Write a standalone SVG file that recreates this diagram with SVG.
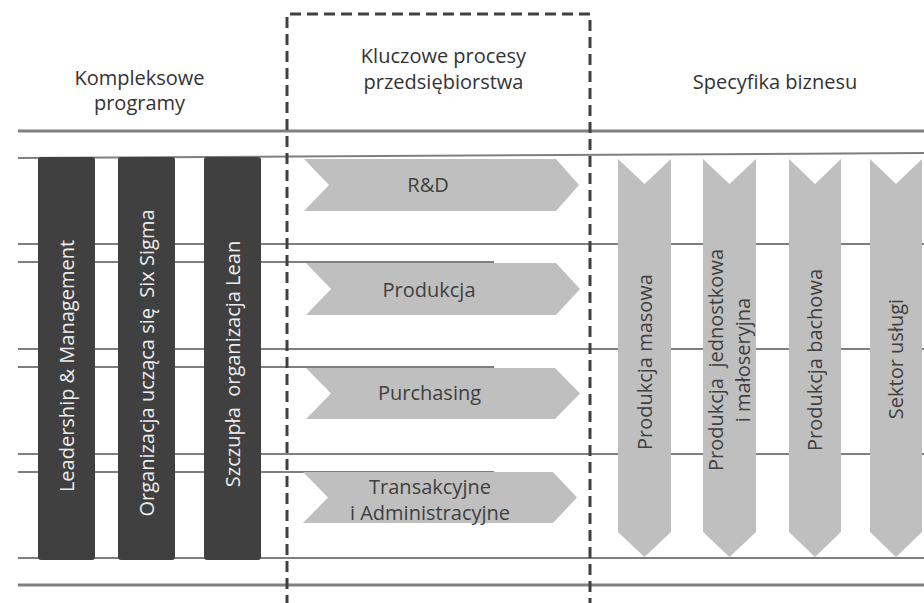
<svg xmlns="http://www.w3.org/2000/svg" width="924" height="603" viewBox="0 0 924 603">
<defs>
<style>
.hdr{font-family:"Open Sans","Noto Sans",sans-serif;font-size:20px;fill:#333333;text-anchor:middle}
.lbl{font-family:"Open Sans","Noto Sans",sans-serif;font-size:20px;fill:#404040;text-anchor:middle}
.wlbl{font-family:"Open Sans","Noto Sans",sans-serif;font-size:20px;fill:#ececec;text-anchor:middle}
.thin{stroke:#7f7f7f;stroke-width:2;fill:none}
.thick{stroke:#808080;stroke-width:3;fill:none}
.dark{fill:#404040}
.chev{fill:#bfbfbf}
.frame{fill:none;stroke:#404040;stroke-width:3;stroke-dasharray:11 6}
</style>
</defs>
<rect width="924" height="603" fill="#ffffff"/>

<g id="connectors">
<line class="thick" x1="18" y1="131" x2="924" y2="131"/>
<line class="thin" x1="18" y1="158" x2="924" y2="153"/>
<line class="thin" x1="18" y1="244" x2="924" y2="244"/>
<line class="thin" x1="18" y1="262" x2="494" y2="262"/>
<line class="thin" x1="18" y1="349" x2="924" y2="349"/>
<line class="thin" x1="18" y1="367" x2="494" y2="367"/>
<line class="thin" x1="18" y1="454" x2="924" y2="454"/>
<line class="thin" x1="18" y1="472" x2="494" y2="472"/>
<line class="thin" x1="18" y1="558" x2="924" y2="558"/>
<line class="thick" x1="18" y1="585" x2="924" y2="585"/>
</g>

<g id="header-kompleksowe">
<text class="hdr" x="139.5" y="85">Kompleksowe</text>
<text class="hdr" x="139.5" y="110">programy</text>
</g>
<g id="header-kluczowe">
<text class="hdr" x="443.5" y="63">Kluczowe procesy</text>
<text class="hdr" x="443.5" y="89">przedsiębiorstwa</text>
</g>
<g id="header-specyfika">
<text class="hdr" x="775" y="89">Specyfika biznesu</text>
</g>

<g id="bar-leadership">
<rect class="dark" x="38" y="157" width="57" height="403" rx="3"/>
<text class="wlbl" transform="translate(66.5 366) rotate(-90)" y="7">Leadership &amp; Management</text>
</g>
<g id="bar-six-sigma">
<rect class="dark" x="118" y="157" width="57" height="403" rx="3"/>
<text class="wlbl" transform="translate(146.5 363) rotate(-90)" y="7" xml:space="preserve">Organizacja ucząca się  Six Sigma</text>
</g>
<g id="bar-lean">
<rect class="dark" x="204" y="157" width="57" height="403" rx="3"/>
<text class="wlbl" transform="translate(232.5 364) rotate(-90)" y="7" xml:space="preserve">Szczupła  organizacja Lean</text>
</g>

<g id="proc-rd">
<polygon class="chev" points="304,159 556,159 579,185 556,211 304,211 329,185"/>
<text class="lbl" x="428" y="192">R&amp;D</text>
</g>
<g id="proc-produkcja">
<polygon class="chev" points="306,263 556,263 580,289 556,315 306,315 331,289"/>
<text class="lbl" x="429" y="297">Produkcja</text>
</g>
<g id="proc-purchasing">
<polygon class="chev" points="306,368 555,368 580,393.5 555,419 306,419 331,393.5"/>
<text class="lbl" x="429.5" y="400">Purchasing</text>
</g>
<g id="proc-transakcyjne">
<polygon class="chev" points="303,472 553,472 577,497.5 553,523 303,523 328,497.5"/>
<text class="lbl" x="430" y="494">Transakcyjne</text>
<text class="lbl" x="430" y="520">i Administracyjne</text>
</g>

<g id="biz-masowa">
<polygon class="chev" points="618,159 644.5,184 671,159 671,532 644.5,557 618,532"/>
<text class="lbl" transform="translate(644.5 362) rotate(-90)" y="7">Produkcja masowa</text>
</g>
<g id="biz-jednostkowa">
<polygon class="chev" points="703,159 729.5,184 756,159 756,532 729.5,557 703,532"/>
<text class="lbl" transform="translate(729.5 360) rotate(-90)" y="-7" xml:space="preserve">Produkcja  jednostkowa</text>
<text class="lbl" transform="translate(729.5 360) rotate(-90)" y="20">i małoseryjna</text>
</g>
<g id="biz-bachowa">
<polygon class="chev" points="789,159 815,184 841,159 841,532 815,557 789,532"/>
<text class="lbl" transform="translate(815 360) rotate(-90)" y="7">Produkcja bachowa</text>
</g>
<g id="biz-uslugi">
<polygon class="chev" points="870,159 896,184 922,159 922,532 896,557 870,532"/>
<text class="lbl" transform="translate(896 359) rotate(-90)" y="7">Sektor usługi</text>
</g>

<g id="frame-kluczowe">
<path class="frame" d="M287,606 L287,14 L590,14 L590,606"/>
</g>
</svg>
